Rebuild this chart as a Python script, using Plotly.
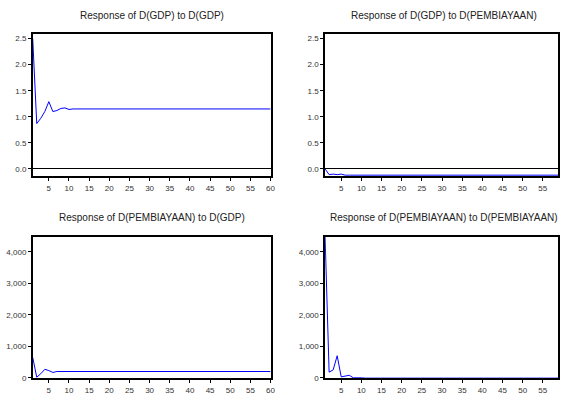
import plotly.graph_objects as go

periods = list(range(1, 61))

gdp_to_gdp = [2.50, 0.87, 0.97, 1.10, 1.29, 1.10, 1.12, 1.16, 1.17, 1.14] + [1.15] * 50
gdp_to_pemb = [0.0, -0.11, -0.10, -0.11, -0.10, -0.12, -0.12, -0.12, -0.12, -0.12] + [-0.12] * 50
pemb_to_gdp = [650, 20, 130, 270, 230, 170, 200, 195, 200, 200] + [200] * 50
pemb_to_pemb = [4480, 180, 250, 700, 30, 60, 80, 0, 10, 0] + [-10] * 50

titles = ["Response of D(GDP) to D(GDP)",
          "Response of D(GDP) to D(PEMBIAYAAN)",
          "Response of D(PEMBIAYAAN) to D(GDP)",
          "Response of D(PEMBIAYAAN) to D(PEMBIAYAAN)"]
series = [gdp_to_gdp, gdp_to_pemb, pemb_to_gdp, pemb_to_pemb]

W, H = 563, 397
xdoms = [[33 / W, 273 / W], [328 / W, 1.0]]
ydoms = [[1 - 178 / H, 1 - 34 / H], [1 - 382.3 / H, 1 - 239 / H]]
xranges = [[1, 60], [1, 1 + (563 - 328) / (240 / 59)]]
yranges = [[-0.14, 2.594], [-20, 4480]]
yticks = [[0.0, 0.5, 1.0, 1.5, 2.0, 2.5], [0, 1000, 2000, 3000, 4000]]
ytext = [["0.0", "0.5", "1.0", "1.5", "2.0", "2.5"], ["0", "1,000", "2,000", "3,000", "4,000"]]

fig = go.Figure()
annotations = []
layout = {}
for i in range(4):
    r, c = divmod(i, 2)
    n = i + 1
    xa = "xaxis" if n == 1 else f"xaxis{n}"
    ya = "yaxis" if n == 1 else f"yaxis{n}"
    xref = "x" if n == 1 else f"x{n}"
    yref = "y" if n == 1 else f"y{n}"
    fig.add_trace(go.Scatter(x=periods, y=series[i], mode="lines",
                             line=dict(color="#0000ff", width=1),
                             xaxis=xref, yaxis=yref, showlegend=False))
    layout[xa] = dict(domain=xdoms[c], range=xranges[c], anchor=yref,
                      tickvals=list(range(5, 61, 5)), ticks="outside", ticklen=3,
                      tickwidth=1, tickcolor="black",
                      showline=True, linecolor="black", linewidth=1.5, mirror=True,
                      showgrid=False, zeroline=False,
                      tickfont=dict(family="Arial", size=8, color="#333"))
    layout[ya] = dict(domain=ydoms[r], range=yranges[r], anchor=xref,
                      tickvals=yticks[r], ticktext=ytext[r], ticks="outside", ticklen=3,
                      tickwidth=1, tickcolor="black",
                      showline=True, linecolor="black", linewidth=1.5, mirror=True,
                      showgrid=False, zeroline=True, zerolinecolor="black", zerolinewidth=1,
                      tickfont=dict(family="Arial", size=8, color="#333"))
    annotations.append(dict(text=titles[i], x=sum(xdoms[c]) / 2 if c == 0 else (328 + 568) / 2 / W,
                            y=1 - (15.5 if r == 0 else 220) / H, xref="paper", yref="paper",
                            showarrow=False, xanchor="center", yanchor="middle",
                            font=dict(family="Arial", size=10, color="#222")))

fig.update_layout(width=W, height=H, margin=dict(l=0, r=0, t=0, b=0),
                  paper_bgcolor="white", plot_bgcolor="white",
                  annotations=annotations, **layout)
fig.write_html("out.html", config={"displayModeBar": False},
               post_script="document.body.style.margin='0';document.body.style.overflow='hidden';")
